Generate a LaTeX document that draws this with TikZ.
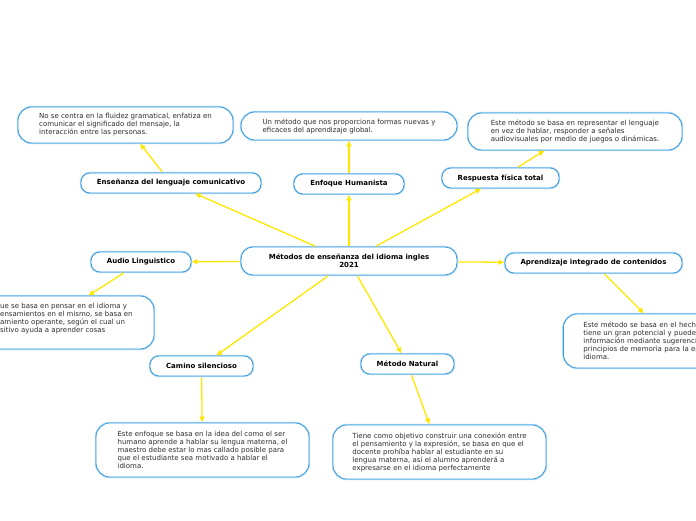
\documentclass[tikz,border=0pt]{standalone}
\usepackage{fontspec}
\setmainfont{DejaVu Sans}
\usetikzlibrary{arrows.meta}
\definecolor{boxblue}{RGB}{52,152,219}
\definecolor{glowblue}{RGB}{175,218,246}
\definecolor{linkyellow}{RGB}{255,230,0}
\definecolor{txtgrey}{RGB}{45,45,45}
\begin{document}
\begin{tikzpicture}[x=1pt,y=-1pt,>={Latex[length=6pt,width=6pt]},
    box/.style={draw=boxblue,line width=0.8pt,fill=white,
      preaction={draw=glowblue,line width=2.4pt},
      font=\fontsize{7pt}{8pt}\selectfont},
    topic/.style={box,rounded corners=9pt,font=\fontsize{7pt}{8pt}\selectfont\bfseries,
      align=center,minimum height=20pt,inner sep=0pt},
    desc/.style={box,rounded corners=14pt,text=txtgrey,align=left,inner sep=0pt},
    link/.style={linkyellow,line width=1.3pt,->,shorten <=1pt}]
  \useasboundingbox (0,0) rectangle (696,520);
  \clip (0,0) rectangle (696,520);

  % main topic and methods
  \node[topic,rounded corners=12pt,minimum width=216pt,minimum height=28pt] (metodos) at (349,261)
    {Métodos de enseñanza del idioma ingles\\2021};
  \node[topic,minimum width=110pt] (humanista) at (349,184) {Enfoque Humanista};
  \node[topic,minimum width=180pt] (comunicativo) at (171,183) {Enseñanza del lenguaje comunicativo};
  \node[topic,minimum width=117pt] (respuesta) at (500.5,178) {Respuesta física total};
  \node[topic,minimum width=100pt] (audio) at (141,262) {Audio Linguistico};
  \node[topic,minimum width=177pt] (integrado) at (593.5,263) {Aprendizaje integrado de contenidos};
  \node[topic,minimum width=103pt] (camino) at (201.5,366) {Camino silencioso};
  \node[topic,minimum width=93pt] (natural) at (407.5,364) {Método Natural};

  % descriptions
  \node[desc,minimum width=215pt,minimum height=36pt] (comunicativoD) at (125.5,125)
    {No se centra en la fluidez gramatical, enfatiza en\\
     comunicar el significado del mensaje, la\\
     interacción entre las personas.};
  \node[desc,minimum width=216pt,minimum height=28pt] (humanistaD) at (349,126)
    {Un método que nos proporciona formas nuevas y\\
     eficaces del aprendizaje global.};
  \node[desc,minimum width=214pt,minimum height=37pt] (respuestaD) at (575,131.5)
    {Este método se basa en representar el lenguaje\\
     en vez de hablar, responder a señales\\
     audiovisuales por medio de juegos o dinámicas.};
  \node[desc,minimum width=216pt,minimum height=53pt] (audioD) at (46,322.5) {};
  \node[text=txtgrey,align=left,anchor=west,inner sep=0pt,
    font=\fontsize{7pt}{8pt}\selectfont] (audioT) at (0,319)
    {ue se basa en pensar en el idioma y\\
     ensamientos en el mismo, se basa en\\
     amiento operante, según el cual un\\
     sitivo ayuda a aprender cosas};
  \node[desc,anchor=west,text width=176pt,inner xsep=20pt,minimum height=54pt] (integradoD) at (563,341)
    {Este método se basa en el hecho\\
     tiene un gran potencial y puede\\
     información mediante sugerenci\\
     principios de memoria para la en\\
     idioma.};
  \node[desc,minimum width=213pt,minimum height=54pt] (caminoD) at (202.5,450)
    {Este enfoque se basa en la idea del como el ser\\
     humano aprende a hablar su lengua materna, el\\
     maestro debe estar lo mas callado posible para\\
     que el estudiante sea motivado a hablar el\\
     idioma.};
  \node[desc,minimum width=213pt,minimum height=54pt] (naturalD) at (439.5,452)
    {Tiene como objetivo construir una conexión entre\\
     el pensamiento y la expresión, se basa en que el\\
     docente prohíba hablar al estudiante en su\\
     lengua materna, así el alumno aprenderá a\\
     expresarse en el idioma perfectamente};

  % connectors
  \foreach \m in {humanista,comunicativo,respuesta,audio,integrado,camino,natural}
    \draw[link] (metodos) -- (\m);
  \foreach \m in {humanista,comunicativo,respuesta,audio,integrado,camino,natural}
    \draw[link] (\m) -- (\m D);
\end{tikzpicture}
\end{document}
